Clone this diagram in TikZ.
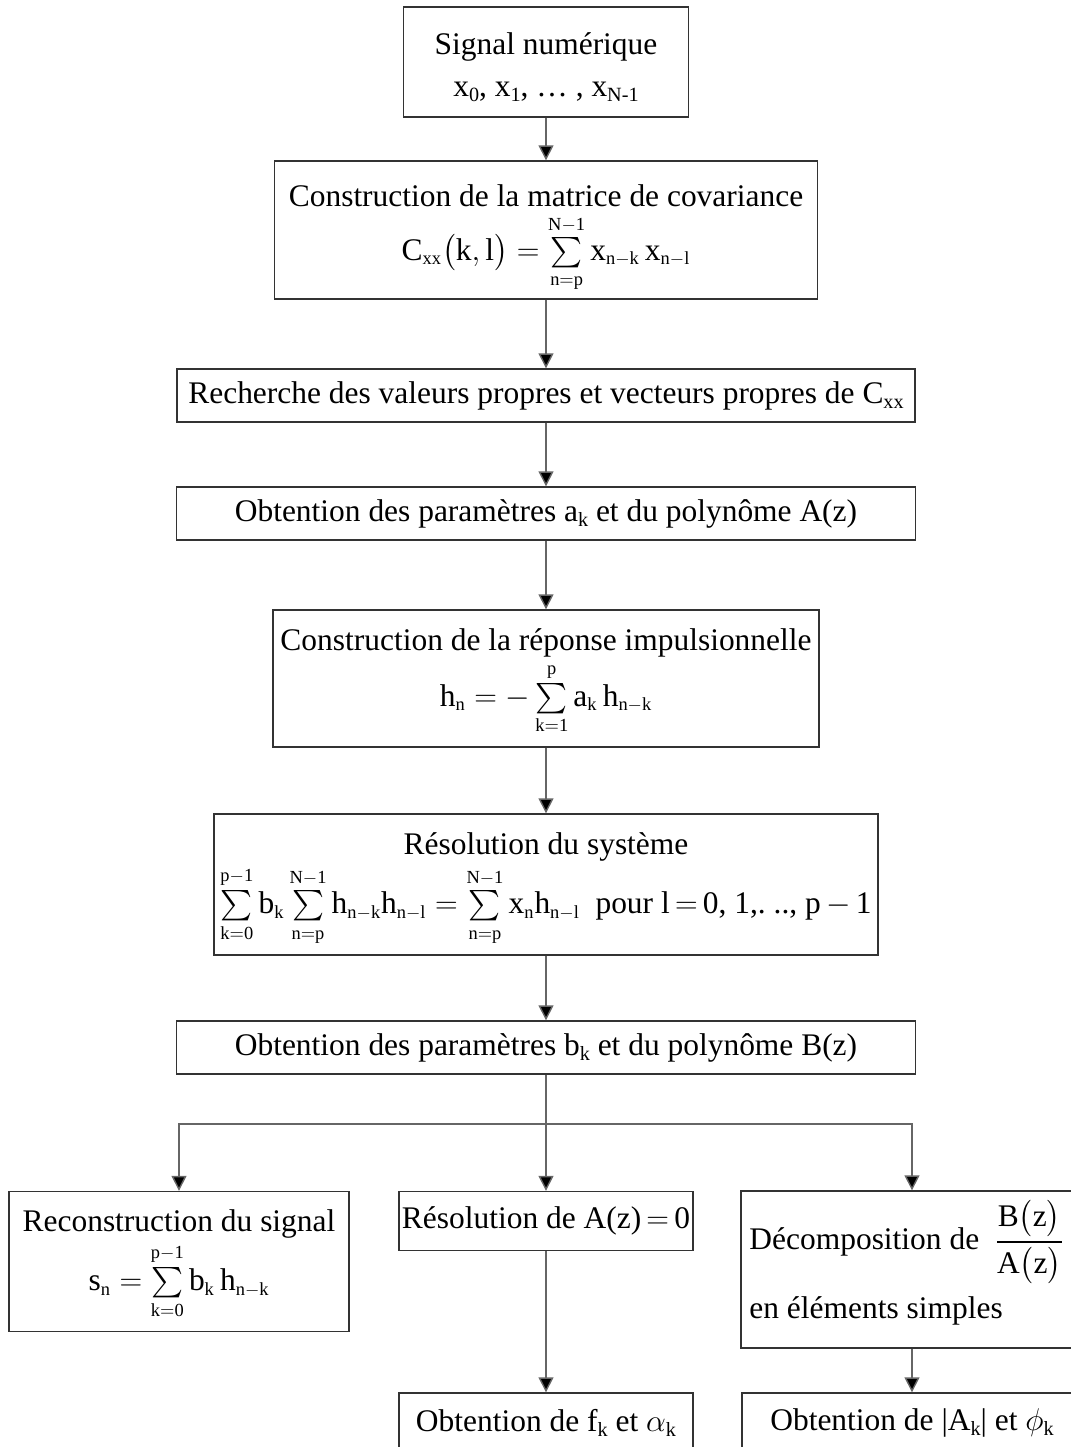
\documentclass[tikz,border=0pt]{standalone}
\usepackage{fix-cm}
\usepackage{amsmath}
\usepackage{fontspec}
\setmainfont{Liberation Serif}
\DeclareMathSizes{17.9}{17.9}{10.5}{8}
\usetikzlibrary{arrows.meta}
\newcommand{\indice}[1]{\raisebox{-0.16em}{\fontsize{11.5}{12}\selectfont #1}}
\newcommand{\ecartlim}{\fontdimen9\textfont3=3pt \fontdimen10\textfont3=3pt}
\tikzset{
  boite/.style={draw=black!80, line width=0.8pt, inner sep=0pt, align=center,
    font=\fontsize{17.9}{24}\selectfont},
  texte/.style={inner sep=0pt, font=\fontsize{17.9}{24}\selectfont},
  fleche/.style={draw=black!60, line width=0.8pt, -{Triangle[width=8.5pt,length=8.5pt,fill=black]}},
  trait/.style={draw=black!60, line width=0.8pt},
}
\begin{document}
\begin{tikzpicture}[x=0.02cm, y=-0.02cm]
    \useasboundingbox (0,0) rectangle (1071,1447);
    \clip (0,0) rectangle (1071,1447);
    % chaine principale
    \node[boite, minimum width=5.7cm, minimum height=2.2cm] (sig) at (546,62)
      {\rule{0pt}{18pt}Signal numérique\\ x\indice{0}, x\indice{1}, \dots\ , x\indice{N-1}};
    \node[boite, minimum width=10.86cm, minimum height=2.76cm] (cov) at (546,230)
      {\rule{0pt}{22pt}Construction de la matrice de covariance\\[4pt]
       $\ecartlim\mathrm{C_{xx}\bigl(k,l\bigr)=\sum\limits_{n=p}^{N-1}x_{n-k}\,x_{n-l}}$};
    \node[boite, minimum width=14.76cm, minimum height=1.06cm] (propres) at (546,395.5)
      {Recherche des valeurs propres et vecteurs propres de C\indice{xx}};
    \node[boite, minimum width=14.78cm, minimum height=1.06cm] (polyA) at (546,513.5)
      {Obtention des paramètres a\indice{k} et du polynôme A(z)};
    \node[boite, minimum width=10.92cm, minimum height=2.74cm] (impuls) at (546,678.5)
      {\rule{0pt}{16pt}Construction de la réponse impulsionnelle\\[2pt]
       $\ecartlim\mathrm{h_n=-\sum\limits_{k=1}^{p}a_k\,h_{n-k}}$};
    \node[boite, minimum width=13.28cm, minimum height=2.82cm] (systeme) at (546,884.5)
      {\rule{0pt}{18pt}Résolution du système\\[2pt]
       $\ecartlim\mathrm{\sum\limits_{k=0}^{p-1}b_k\sum\limits_{n=p}^{N-1}h_{n-k}h_{n-l}=\sum\limits_{n=p}^{N-1}x_n h_{n-l}}$\ \
       pour l$\,=\,$0,\ 1,.\ ..,\ p$\,-\,$1};
    \node[boite, minimum width=14.78cm, minimum height=1.06cm] (polyB) at (546,1047.5)
      {Obtention des paramètres b\indice{k} et du polynôme B(z)};
    \coordinate (branche) at (546,1124);
    % trois branches
    \node[boite, minimum width=6.8cm, minimum height=2.8cm] (recons) at (179,1261.5)
      {\rule{0pt}{16pt}Reconstruction du signal\\[2pt]
       $\ecartlim\mathrm{s_n=\sum\limits_{k=0}^{p-1}b_k\,h_{n-k}}$};
    \node[boite, minimum width=5.88cm, minimum height=1.18cm] (racines) at (546,1221)
      {Résolution de A(z)$\,=\,$0};
    \node[boite, minimum width=6.84cm, minimum height=3.14cm] (decomp) at (912,1269.5) {};
    \node[texte, anchor=west, align=left] (decompT) at ([xshift=5pt,yshift=4pt]decomp.west)
      {Décomposition de \ $\displaystyle\mathrm{\frac{B\bigl(z\bigr)}{A\bigl(z\bigr)}}$\\[6pt]
       en éléments simples};
    \node[boite, minimum width=5.88cm, minimum height=1.2cm] (freq) at (546,1423)
      {Obtention de f\indice{k} et $\alpha$\indice{k}};
    \node[boite, minimum width=6.8cm, minimum height=1.2cm] (ampl) at (912,1423)
      {Obtention de |A\indice{k}| et $\phi$\indice{k}};
    % fleches
    \draw[fleche] (sig) -- (cov);
    \draw[fleche] (cov) -- (propres);
    \draw[fleche] (propres) -- (polyA);
    \draw[fleche] (polyA) -- (impuls);
    \draw[fleche] (impuls) -- (systeme);
    \draw[fleche] (systeme) -- (polyB);
    \draw[trait] (polyB) -- (branche);
    \draw[fleche] (branche) -| (recons);
    \draw[fleche] (branche) -- (racines);
    \draw[fleche] (branche) -| (decomp);
    \draw[fleche] (racines) -- (freq);
    \draw[fleche] (decomp.south -| ampl) -- (ampl);
\end{tikzpicture}
\end{document}
